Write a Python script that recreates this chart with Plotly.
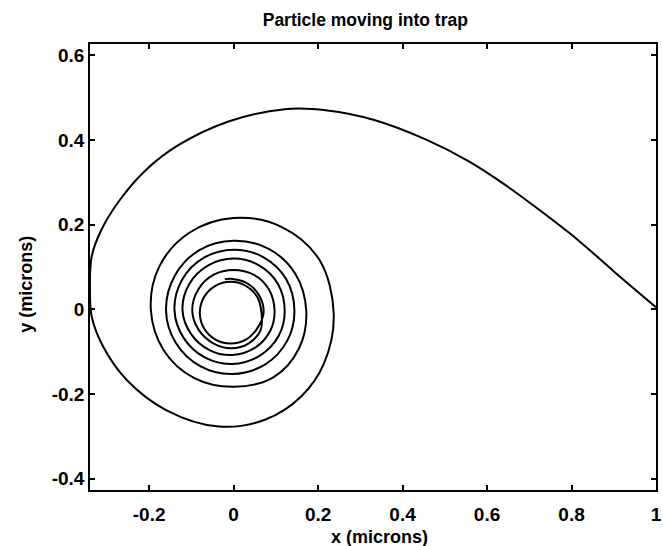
import plotly.graph_objects as go

# Outer approach path (microns)
approach_x = [1.000, 0.901, 0.815, 0.729, 0.643, 0.558, 0.456, 0.331, 0.222, 0.121,
              -0.012, -0.129, -0.207, -0.269, -0.313, -0.336, -0.340, -0.336, -0.309,
              -0.253, -0.160, -0.035, 0.074, 0.160, 0.214]
approach_y = [0.005, 0.089, 0.164, 0.231, 0.294, 0.349, 0.401, 0.448, 0.470, 0.473,
              0.444, 0.389, 0.330, 0.259, 0.188, 0.125, 0.046, -0.017, -0.088,
              -0.167, -0.238, -0.277, -0.261, -0.206, -0.128]

# Inner spiral inside the trap (microns), every ~30 degrees per turn
spiral_x = [0.237, 0.203, 0.113, 0.000, -0.105, -0.176, -0.196, -0.166, -0.094, 0.000, 0.095, 0.155,
            0.172, 0.146, 0.083, 0.000, -0.081, -0.139, -0.160, -0.137, -0.078, -0.003, 0.075, 0.127,
            0.144, 0.124, 0.071, 0.000, -0.070, -0.122, -0.140, -0.118, -0.066, -0.003, 0.063, 0.107,
            0.121, 0.105, 0.060, 0.000, -0.060, -0.105, -0.121, -0.101, -0.056, -0.003, 0.052, 0.087,
            0.097, 0.083, 0.047, 0.000, -0.047, -0.083, -0.098, -0.083, -0.047, -0.005, 0.035, 0.064,
            0.066, 0.056, 0.030, -0.007, -0.044, -0.070, -0.080, -0.070, -0.044, -0.007, 0.030, 0.056,
            0.071, 0.061, 0.033, -0.007, -0.021]
spiral_y = [-0.010, 0.117, 0.195, 0.216, 0.181, 0.101, 0.000, -0.096, -0.162, -0.183, -0.160, -0.092,
            -0.004, 0.084, 0.143, 0.162, 0.140, 0.080, -0.002, -0.079, -0.135, -0.153, -0.130, -0.074,
            -0.004, 0.072, 0.123, 0.141, 0.122, 0.070, -0.002, -0.068, -0.115, -0.129, -0.109, -0.062,
            -0.004, 0.060, 0.104, 0.120, 0.104, 0.060, -0.002, -0.058, -0.097, -0.108, -0.090, -0.050,
            -0.004, 0.048, 0.082, 0.093, 0.082, 0.048, -0.002, -0.048, -0.081, -0.092, -0.081, -0.049,
            -0.008, 0.029, 0.055, 0.065, 0.055, 0.029, -0.008, -0.045, -0.071, -0.081, -0.071, -0.045,
            -0.008, 0.032, 0.061, 0.072, 0.071]

x_ticks = [-0.2, 0, 0.2, 0.4, 0.6, 0.8, 1]
x_tick_labels = ["-0.2", "0", "0.2", "0.4", "0.6", "0.8", "1"]
y_ticks = [-0.4, -0.2, 0, 0.2, 0.4, 0.6]
y_tick_labels = ["-0.4", "-0.2", "0", "0.2", "0.4", "0.6"]

FONT = "Liberation Sans, Arial, Helvetica, sans-serif"
W, H = 663, 546

fig = go.Figure()
fig.add_trace(go.Scatter(
    x=approach_x + spiral_x,
    y=approach_y + spiral_y,
    mode="lines",
    line=dict(color="black", width=2, shape="spline", smoothing=1.0),
    showlegend=False,
))

axis_common = dict(
    showline=True, linecolor="black", linewidth=1.5, mirror="ticks",
    ticks="inside", ticklen=5, tickwidth=1.5, tickcolor="black",
    showgrid=False, zeroline=False, ticklabeloverflow="allow",
    tickfont=dict(family=FONT, size=19, color="black", weight="bold"),
)

label_font = dict(family=FONT, size=18, color="black", weight="bold")

fig.update_layout(
    width=W, height=H,
    margin=dict(l=90, r=1, t=44, b=56),
    paper_bgcolor="white", plot_bgcolor="white",
    title=dict(text="Particle moving into trap", x=0.551, xanchor="center",
               y=0.963, yanchor="middle",
               font=dict(family=FONT, size=17.5, color="black", weight="bold")),
    xaxis=dict(range=[-0.340, 1.0], tickvals=x_ticks, ticktext=x_tick_labels,
               ticklabelstandoff=6, **axis_common),
    yaxis=dict(range=[-0.427, 0.627], tickvals=y_ticks, ticktext=y_tick_labels,
               **axis_common),
    annotations=[
        dict(text="x (microns)", xref="paper", yref="paper",
             x=(383 - 90) / (662 - 90), y=-(537 - 490) / (490 - 44),
             xanchor="center", yanchor="middle", showarrow=False, font=label_font),
        dict(text="y (microns)", xref="paper", yref="paper",
             x=-(90 - 25) / (662 - 90), y=(490 - 284) / (490 - 44),
             xanchor="center", yanchor="middle", showarrow=False, textangle=-90,
             font=label_font),
    ],
)

fig.write_html("out.html")
